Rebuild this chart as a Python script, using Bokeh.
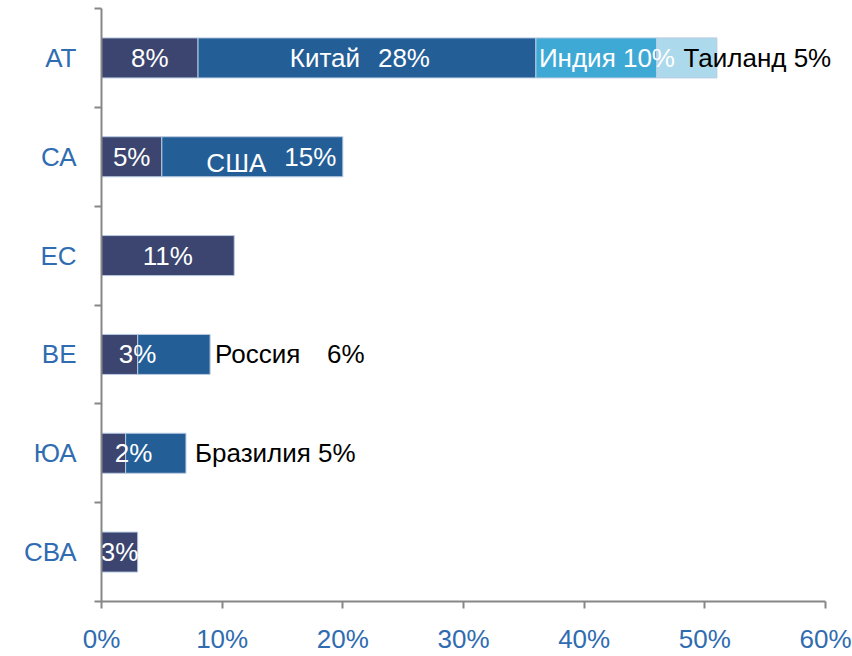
from bokeh.plotting import figure
from bokeh.models import ColumnDataSource, Range1d, FixedTicker, PrintfTickFormatter
from bokeh.core.properties import value
from bokeh.embed import file_html
from bokeh.resources import INLINE

# ---- data ----
regions = ["АТ", "СА", "ЕС", "ВЕ", "ЮА", "СВА"]
base_share = [8, 5, 11, 3, 2, 3]
country1_names = ["Китай", "США", "", "Россия", "Бразилия", ""]
country1_share = [28, 15, 0, 6, 5, 0]
country2_names = ["Индия", "", "", "", "", ""]
country2_share = [10, 0, 0, 0, 0, 0]
country3_names = ["Таиланд", "", "", "", "", ""]
country3_share = [5, 0, 0, 0, 0, 0]
x_ticks = [0, 10, 20, 30, 40, 50, 60]

# ---- style ----
FONT = "Liberation Sans"
C_BASE = "#3B4570"
C_C1 = "#245E97"
C_C2 = "#3FA9D6"
C_C3 = "#ADD9EC"
C_EDGE = "#B9CBE2"
C_AXIS = "#878787"
C_TICKLBL = "#2F6CB1"

W, H = 852, 656
BL, BR, BT, BB = 101, 7, 8, 53
AXIS_PX = 724  # pixels spanned by 0..60 on the axis
x_max = x_ticks[-1]
frame_w = W - BL - BR
x_end = frame_w * x_max / AXIS_PX

n = len(regions)
ys = [n - i - 0.5 for i in range(n)]

p = figure(width=W, height=H, output_backend="svg", toolbar_location=None,
           x_range=Range1d(0, x_end), y_range=Range1d(0, n),
           min_border_left=BL, min_border_right=BR, min_border_top=BT, min_border_bottom=BB)
p.background_fill_color = "white"
p.border_fill_color = "white"
p.outline_line_color = None
p.xgrid.visible = False
p.ygrid.visible = False

# cumulative stacks
l0 = [0] * n
r0 = [l0[i] + base_share[i] for i in range(n)]
r1 = [r0[i] + country1_share[i] for i in range(n)]
r2 = [r1[i] + country2_share[i] for i in range(n)]
r3 = [r2[i] + country3_share[i] for i in range(n)]

def bars(left, right, color):
    idx = [i for i in range(n) if right[i] > left[i]]
    src = ColumnDataSource(dict(y=[ys[i] for i in idx], left=[left[i] for i in idx],
                                right=[right[i] for i in idx]))
    p.hbar(y="y", left="left", right="right", height=0.405, source=src,
           fill_color=color, line_color=C_EDGE, line_width=1)

bars(l0, r0, C_BASE)
bars(r0, r1, C_C1)
bars(r1, r2, C_C2)
bars(r2, r3, C_C3)

# ---- labels ----
lab = dict(x=[], y=[], text=[], align=[], dx=[], dy=[], color=[])
def add(x, i, text, align, dx, dy, color):
    lab["x"].append(x); lab["y"].append(ys[i]); lab["text"].append(text)
    lab["align"].append(align); lab["dx"].append(dx); lab["dy"].append(dy)
    lab["color"].append(color)

base_dx = [0, 0, 0, 18, 20, 0]
for i in range(n):
    add((l0[i] + r0[i]) / 2, i, f"{base_share[i]}%", "center", base_dx[i], 0, "white")

# Китай
add((r0[0] + r1[0]) / 2, 0, country1_names[0], "center", -42, 0, "white")
add((r0[0] + r1[0]) / 2, 0, f"{country1_share[0]}%", "center", 37, 0, "white")
# США
add((r0[1] + r1[1]) / 2, 1, country1_names[1], "center", -16, 6, "white")
add((r0[1] + r1[1]) / 2, 1, f"{country1_share[1]}%", "center", 58, 0, "white")
# Россия
add(r1[3], 3, country1_names[3], "left", 5, 0, "black")
add(r1[3], 3, f"{country1_share[3]}%", "left", 117, 0, "black")
# Бразилия
add(r1[4], 4, f"{country1_names[4]} {country1_share[4]}%", "left", 9, 0, "black")
# Индия
add(r1[0], 0, f"{country2_names[0]} {country2_share[0]}%", "left", 3, 0, "white")
# Таиланд
add(r2[0], 0, f"{country3_names[0]} {country3_share[0]}%", "left", 27, 0, "black")

lsrc = ColumnDataSource(lab)
p.text(x="x", y="y", text="text", source=lsrc, text_align="align",
       text_baseline="middle", x_offset="dx", y_offset="dy", text_color="color",
       text_font=value(FONT), text_font_size="26px")

# ---- axes ----
xa = p.xaxis[0]
xa.bounds = (0, x_max)
xa.ticker = FixedTicker(ticks=x_ticks, minor_ticks=[])
xa.formatter = PrintfTickFormatter(format="%d%%")
xa.axis_line_color = C_AXIS
xa.axis_line_width = 2
xa.major_tick_line_color = C_AXIS
xa.major_tick_line_width = 2
xa.major_tick_in = 0
xa.major_tick_out = 7
xa.minor_tick_line_color = None
xa.major_label_text_font = FONT
xa.major_label_text_font_size = "26px"
xa.major_label_text_color = C_TICKLBL
xa.major_label_standoff = 15

ya = p.yaxis[0]
ya.ticker = FixedTicker(ticks=ys, minor_ticks=list(range(n + 1)))
ya.major_label_overrides = {ys[i]: regions[i] for i in range(n)}
ya.axis_line_color = C_AXIS
ya.axis_line_width = 2
ya.major_tick_line_color = None
ya.major_tick_in = 0
ya.major_tick_out = 0
ya.minor_tick_line_color = C_AXIS
ya.minor_tick_line_width = 2
ya.minor_tick_in = 0
ya.minor_tick_out = 7
ya.major_label_text_font = FONT
ya.major_label_text_font_size = "26px"
ya.major_label_text_color = C_TICKLBL
ya.major_label_standoff = 18

open("out.html", "w").write(file_html(p, INLINE))
